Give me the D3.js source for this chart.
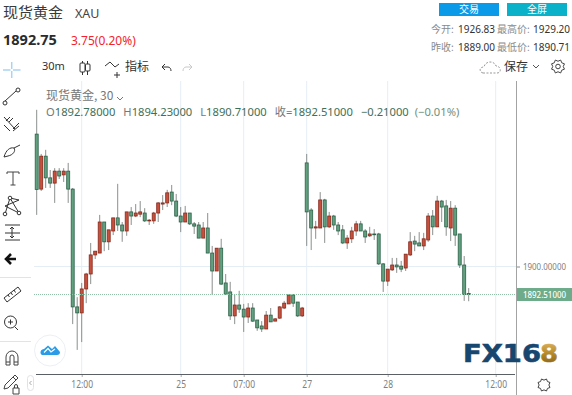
<!DOCTYPE html>
<html>
<head>
<meta charset="utf-8">
<script src="https://cdn.jsdelivr.net/npm/d3@7"></script>
<style>
  html, body { margin: 0; padding: 0; background: #fff; }
  svg { display: block; }
  text { font-family: "Noto Sans CJK SC", "Noto Sans", sans-serif; }
  .axis text { font-family: "Noto Sans", sans-serif; font-size: 10px; fill: #808080; }
  .num { font-family: "Noto Sans", "Noto Sans CJK SC", sans-serif; }
</style>
</head>
<body>
<div id="chart"></div>
<script>
// 30m candles
const opens = [1935.4,1920.7,1929.5,1923.7,1922.3,1925.5,1924.5,1925.5,1920.7,1889.2,1887.6,1894.0,1898.0,1903.1,1903.6,1911.9,1906.6,1909.5,1913.0,1911.1,1909.5,1914.6,1913.5,1914.0,1914.3,1912.2,1912.2,1914.3,1916.7,1917.0,1919.9,1917.5,1913.5,1911.9,1914.3,1911.4,1911.1,1907.6,1910.3,1903.6,1898.8,1904.9,1895.6,1893.2,1886.8,1889.7,1888.6,1886.5,1888.9,1885.7,1884.1,1883.3,1887.0,1885.4,1886.2,1888.9,1890.0,1892.4,1890.5,1886.8,1927.7,1915.1,1910.3,1910.3,1917.8,1910.6,1913.5,1911.1,1909.8,1906.3,1907.4,1909.5,1911.4,1909.5,1908.2,1908.7,1908.7,1900.7,1896.1,1899.1,1900.4,1900.1,1899.6,1903.1,1906.8,1906.3,1905.5,1907.1,1913.5,1910.6,1917.5,1916.2,1910.3,1915.6,1908.7,1900.4,1892.78];
const highs = [1941.9,1930.1,1931.2,1925.8,1926.3,1926.3,1926.3,1927.7,1921.0,1891.8,1895.6,1898.3,1906.3,1904.1,1913.8,1911.9,1909.8,1913.0,1922.1,1911.9,1914.6,1915.9,1916.7,1917.5,1915.6,1912.7,1914.6,1917.2,1919.1,1920.5,1921.8,1919.4,1915.9,1916.2,1914.3,1911.9,1911.9,1911.9,1914.3,1905.5,1904.9,1907.4,1898.0,1895.9,1892.6,1893.5,1890.0,1890.2,1890.2,1885.7,1885.4,1888.1,1888.9,1886.2,1889.4,1890.8,1892.6,1892.6,1890.5,1889.2,1930.1,1915.6,1912.2,1919.9,1918.1,1914.6,1913.8,1911.9,1911.1,1908.4,1910.6,1912.2,1912.2,1910.0,1910.6,1910.0,1909.0,1900.9,1899.3,1902.3,1902.3,1901.5,1903.3,1909.2,1908.2,1909.2,1909.0,1914.3,1915.1,1918.9,1917.8,1917.8,1917.5,1916.4,1908.7,1902.8,1894.23];
const lows = [1913.8,1920.2,1921.0,1921.0,1917.0,1923.4,1922.6,1917.0,1884.6,1877.7,1879.8,1890.2,1895.3,1902.0,1903.6,1904.1,1904.4,1908.4,1909.5,1906.6,1908.2,1911.1,1913.2,1913.2,1911.9,1911.1,1911.4,1911.9,1915.1,1915.9,1916.4,1913.2,1909.2,1911.9,1911.1,1908.7,1907.6,1907.6,1903.6,1892.4,1898.8,1895.1,1892.6,1885.7,1884.6,1887.6,1882.5,1884.9,1885.2,1882.8,1882.5,1883.3,1885.2,1885.4,1886.0,1888.6,1890.0,1889.2,1886.5,1886.5,1905.5,1904.4,1907.4,1910.3,1906.3,1910.3,1909.8,1908.4,1906.0,1904.7,1906.3,1908.2,1909.5,1906.3,1907.9,1907.1,1900.4,1893.2,1894.8,1898.8,1898.3,1898.5,1898.8,1902.8,1904.1,1905.5,1904.4,1906.6,1908.4,1910.6,1911.9,1908.2,1906.8,1905.5,1899.6,1890.8,1890.71];
const closes = [1920.6,1929.5,1923.7,1922.3,1925.5,1924.2,1925.5,1920.7,1889.2,1887.6,1894.0,1898.0,1903.1,1904.1,1911.9,1906.6,1909.8,1913.0,1911.1,1909.5,1914.6,1913.5,1914.3,1914.6,1912.2,1912.4,1914.3,1917.0,1917.0,1919.7,1917.5,1913.5,1911.9,1914.3,1911.4,1910.8,1907.6,1910.3,1903.6,1898.8,1904.9,1895.3,1892.6,1886.8,1889.7,1888.6,1886.5,1888.9,1885.4,1883.6,1883.3,1887.0,1885.2,1886.0,1889.2,1890.2,1892.4,1890.2,1886.8,1888.9,1914.6,1910.3,1910.6,1917.8,1910.6,1913.5,1911.1,1909.5,1906.3,1907.6,1909.5,1911.4,1909.5,1907.9,1908.7,1908.5,1900.7,1896.1,1899.3,1900.4,1899.9,1899.3,1903.3,1906.6,1906.0,1905.5,1907.4,1913.5,1910.6,1917.5,1915.9,1910.6,1915.6,1908.4,1900.4,1892.5,1892.51];

// axis labels, bar index -> label
const timeTickIndex = [10, 32, 46, 60, 78, 102];
const timeTickLabels = ["12:00", "25", "07:00", "27", "28", "12:00"];
const priceTicks = [1900];
const lastPrice = 1892.51;

const legendValues = [
  ["O", "1892.78000"], ["H", "1894.23000"], ["L", "1890.71000"], ["收=", "1892.51000"]
];

const upColor = "#c9503d", upEdge = "#84291b";
const downColor = "#62a180", downEdge = "#2c5f47";

const W = 572, H = 395;
const plot = { left: 36, right: 516, top: 81, bottom: 374 };

const svg = d3.select("#chart").append("svg").attr("width", W).attr("height", H);

const x = d3.scaleLinear().domain([0, 106]).range([36.7, 513.7]);
const y = d3.scaleLinear().domain([1871.26, 1949.6]).range([plot.bottom, plot.top]);

// squeeze axis text, the original font is narrower than what we have here
function condense(sel, factor) {
  sel.each(function() {
    d3.select(this).attr("textLength", this.getComputedTextLength() * factor)
      .attr("lengthAdjust", "spacingAndGlyphs");
  });
}

// grid
const grid = svg.append("g").attr("stroke", "#e5edf5").attr("fill", "none");
timeTickIndex.forEach(i => {
  grid.append("line").attr("x1", x(i)).attr("x2", x(i)).attr("y1", plot.top).attr("y2", plot.bottom);
});
priceTicks.forEach(p => {
  grid.append("line").attr("x1", plot.left - 2).attr("x2", plot.right).attr("y1", y(p)).attr("y2", y(p));
});

// candles
const candles = opens.map((o, i) => ({ i, o, h: highs[i], l: lows[i], c: closes[i] }));
const bodyWidth = 3;

const gCandles = svg.append("g");
gCandles.selectAll(".wick").data(candles).enter().append("line")
  .attr("class", "wick")
  .attr("x1", d => x(d.i)).attr("x2", d => x(d.i))
  .attr("y1", d => y(d.h)).attr("y2", d => y(d.l))
  .attr("stroke", "#8b8f8d").attr("stroke-width", 1);

gCandles.selectAll(".body").data(candles).enter().append("rect")
  .attr("class", "body")
  .attr("x", d => x(d.i) - bodyWidth / 2)
  .attr("width", bodyWidth)
  .attr("y", d => y(Math.max(d.o, d.c)))
  .attr("height", d => Math.max(0.8, Math.abs(y(d.o) - y(d.c))))
  .attr("fill", d => d.c >= d.o ? upColor : downColor)
  .attr("stroke", d => d.c >= d.o ? upEdge : downEdge)
  .attr("stroke-width", 0.8);

// last price line
svg.append("line")
  .attr("x1", plot.left - 2).attr("x2", plot.right)
  .attr("y1", y(lastPrice)).attr("y2", y(lastPrice))
  .attr("stroke", "#8fc0a6").attr("stroke-width", 1).attr("stroke-dasharray", "1,1");

// axes
const bottomAxis = d3.axisBottom(x).tickValues(timeTickIndex)
  .tickFormat((d, i) => timeTickLabels[i]).tickSize(3).tickPadding(4).tickSizeOuter(0);
const gx = svg.append("g").attr("class", "axis").attr("transform", `translate(0,${plot.bottom})`).call(bottomAxis);
gx.select(".domain").remove();
gx.selectAll("line").attr("stroke", "#aaa");
gx.selectAll("text").call(condense, 0.85);
svg.append("line").attr("x1", plot.left).attr("x2", plot.right - 1)
  .attr("y1", plot.bottom + 0.5).attr("y2", plot.bottom + 0.5).attr("stroke", "#5b5f66");

const rightAxis = d3.axisRight(y).tickValues(priceTicks).tickFormat(d3.format(".5f"))
  .tickSize(4).tickPadding(3).tickSizeOuter(0);
const gy = svg.append("g").attr("class", "axis").attr("transform", `translate(${plot.right},0)`).call(rightAxis);
gy.select(".domain").remove();
gy.selectAll("line").attr("stroke", "#888");
gy.selectAll("text").style("font-size", "9px").attr("textLength", 43).attr("lengthAdjust", "spacingAndGlyphs");
svg.append("line").attr("x1", plot.right + 0.5).attr("x2", plot.right + 0.5)
  .attr("y1", plot.top).attr("y2", H).attr("stroke", "#a3a3a3").attr("stroke-width", 1);

// last price tag
svg.append("rect").attr("x", plot.right + 1).attr("y", y(lastPrice) - 6.5)
  .attr("width", W - plot.right - 1).attr("height", 13).attr("fill", "#6dab8a");
svg.append("text").attr("class", "num").attr("x", plot.right + 7).attr("y", y(lastPrice) + 3.5)
  .attr("font-size", 9).attr("font-weight", 500).attr("fill", "#fff")
  .attr("textLength", 43).attr("lengthAdjust", "spacingAndGlyphs").text(d3.format(".5f")(lastPrice));

// header
function label(px, py, str, size, color, opts = {}) {
  const t = svg.append("text").attr("x", px).attr("y", py).attr("font-size", size).attr("fill", color).text(str);
  if (opts.anchor) t.attr("text-anchor", opts.anchor);
  if (opts.weight) t.attr("font-weight", opts.weight);
  if (opts.num) t.attr("class", "num");
  return t;
}
label(3, 18, "现货黄金", 15, "#3a3a3a");
label(75, 18, "XAU", 12.5, "#444", { num: true });
label(3, 45, "1892.75", 14.5, "#2b2b2b", { weight: 700, num: true });
label(71, 45, "3.75(0.20%)", 12, "#f5222d", { num: true });

svg.append("rect").attr("x", 439).attr("y", 3).attr("width", 60).attr("height", 13).attr("fill", "#0a9ae8");
svg.append("rect").attr("x", 507).attr("y", 3).attr("width", 60).attr("height", 13).attr("fill", "#0bb1c9");
label(469, 13, "交易", 10, "#fff", { anchor: "middle" });
label(537, 13, "全屏", 10, "#fff", { anchor: "middle" });

label(431, 33, "今开:", 10, "#8a8a8a");
label(458, 33, "1926.83", 10, "#333", { num: true });
label(497, 33, "最高价:", 10, "#8a8a8a");
label(533, 33, "1929.20", 10, "#333", { num: true });
label(431, 51, "昨收:", 10, "#8a8a8a");
label(458, 51, "1889.00", 10, "#333", { num: true });
label(497, 51, "最低价:", 10, "#8a8a8a");
label(533, 51, "1890.71", 10, "#333", { num: true });

// top toolbar
label(42, 70, "30m", 11, "#333", { num: true });
label(125, 70.5, "指标", 12, "#333");
label(504, 71, "保存", 12, "#333");

// chart legend
label(46, 100, "现货黄金, 30", 12, "#777");
const legendRow = svg.append("text").attr("class", "num").attr("x", 46).attr("y", 116).attr("font-size", 11.2);
legendValues.forEach(([k, v], i) => {
  legendRow.append("tspan").attr("fill", "#777").attr("dx", i ? 8 : 0).text(k);
  legendRow.append("tspan").attr("fill", "#3e6f57").text(v);
});
legendRow.append("tspan").attr("fill", "#3e6f57").attr("dx", 8).text("−0.21000");
legendRow.append("tspan").attr("fill", "#6f8f7e").attr("dx", 6).text("(−0.01%)");

// icons
function icon(d, color = "#444", sw = 1) {
  return svg.append("path").attr("d", d).attr("fill", "none").attr("stroke", color).attr("stroke-width", sw);
}
icon("M117 97L120 100L123 97", "#777"); // legend chevron
// crosshair
icon("M3 70h7.500M13 70h7.500M11.700 62v7M11.700 71v7", "#a9d3f3", 1.5);
// trend line
icon("M5 101L16 91", "#333");
svg.append("circle").attr("cx", 5).attr("cy", 103).attr("r", 2).attr("fill", "#fff").attr("stroke", "#333");
svg.append("circle").attr("cx", 18).attr("cy", 90).attr("r", 2).attr("fill", "#fff").attr("stroke", "#333");
// pitchfork
icon("M4 117L15 129M4 125L10 131M10 117L6 121M13 118L9 122M19 123L13 129M13 131L19 126", "#333");
// brush
icon("M4 157C6 150 10 147 14 148C16 151 13 155 8 156ZM14 148L20 145", "#333");
// text tool
icon("M7 174V172H19V174M13 172V185M10.500 185H15.500", "#444");
// pattern
icon("M5 214L10 198L19 213L5 206L19 200L10 198", "#333");
[[5, 214], [10, 198], [19, 213]].forEach(p => {
  svg.append("circle").attr("cx", p[0]).attr("cy", p[1]).attr("r", 1.8).attr("fill", "#fff").attr("stroke", "#333");
});
// fib
icon("M5 225H20M5 233H20M5 240H20M12 227V238M10 229L12 227L14 229M10 236L12 238L14 236", "#333");
// back arrow
icon("M16 259H7M11 254L6 259L11 264", "#111", 2.6);
// separators
svg.append("line").attr("x1", 0).attr("x2", 31).attr("y1", 277.5).attr("y2", 277.5).attr("stroke", "#e0e3e8");
svg.append("line").attr("x1", 0).attr("x2", 31).attr("y1", 341.5).attr("y2", 341.5).attr("stroke", "#e0e3e8");
// ruler
icon("M4 298L18 287L21 291L7 302ZM8 295L9.500 297M11 292.500L12.500 295M14 290L15.500 292.500", "#333");
// zoom
svg.append("circle").attr("cx", 10.5).attr("cy", 322).attr("r", 6).attr("fill", "none").attr("stroke", "#333");
icon("M8 322H13M10.500 319.500V324.500M15 327L18 330", "#333");
// magnet
icon("M6 365V357A6 6 0 0 1 18 357V365H14V357A2 2 0 0 0 10 357V365ZM6 362H10M14 362H18", "#444");
// pencil + lock
icon("M4 389L5 385L15 375L18 378L8 388ZM13 377L16 380", "#444");
icon("M13 388H19V394H13ZM14.500 388V386A1.500 1.500 0 0 1 17.500 386V388", "#444");
// collapse handle
svg.append("rect").attr("x", 27.5).attr("y", 375.5).attr("width", 6).attr("height", 15).attr("rx", 3)
  .attr("fill", "#fff").attr("stroke", "#dfe2e6");
icon("M31.500 381L29.500 383L31.500 385", "#aaa");

// toolbar icons on top
icon("M82.500 61V75M87.500 61V75", "#333");
svg.append("rect").attr("x", 80).attr("y", 63).attr("width", 5).attr("height", 9).attr("rx", 1).attr("fill", "#fff").attr("stroke", "#333");
svg.append("rect").attr("x", 85.5).attr("y", 64).attr("width", 4.5).attr("height", 7).attr("rx", 1).attr("fill", "#fff").attr("stroke", "#333");
icon("M105 66L110 62L115 67L119 64M117 72V78M114 75H120", "#333");
icon("M162 67L165 64M162 67L165 70M162 67H168C170 67 171 69 171 71", "#333");
icon("M192 67L189 64M192 67L189 70M192 67H186C184 67 183 69 183 71", "#c9c9c9");
icon("M483 73C479 72 479 67 484 67C485 61 494 60 496 66C501 66 502 73 497 73Z", "#999").attr("stroke-dasharray", "2,1.5");
icon("M533 65L536 68L539 65", "#555");
// gear
function gear(cx, cy, r) {
  const pts = d3.range(0, 16).map(k => {
    const a = (k / 16) * 2 * Math.PI;
    const rr = k % 2 ? r : r * 0.75;
    return [cx + rr * Math.cos(a), cy + rr * Math.sin(a)];
  });
  icon(d3.line().curve(d3.curveLinearClosed)(pts), "#444");
}
gear(558, 66.5, 7);
svg.append("circle").attr("cx", 558).attr("cy", 66.5).attr("r", 2.3).attr("fill", "none").attr("stroke", "#444");
gear(544, 385, 6.5);

// cloud button
svg.append("circle").attr("cx", 50).attr("cy", 350.5).attr("r", 15.5).attr("fill", "#fff").attr("stroke", "#eceff3");
svg.append("path").attr("d", "M42 355C39 353 41 349 44 349L48 345.500L52 349L55 346L60 352C60 354 59 355 57 355Z").attr("fill", "#2a9be6");
svg.append("path").attr("d", "M44 352.500L48 348.500L51 352L55 349").attr("fill", "none").attr("stroke", "#fff").attr("stroke-width", 1.2);

// logo
const grad = svg.append("defs").append("linearGradient").attr("id", "gold").attr("x1", 0).attr("x2", 0).attr("y1", 0).attr("y2", 1);
grad.append("stop").attr("offset", "0%").attr("stop-color", "#e2b964");
grad.append("stop").attr("offset", "55%").attr("stop-color", "#b08222");
grad.append("stop").attr("offset", "100%").attr("stop-color", "#7a5a14");
svg.append("text").attr("x", 463).attr("y", 362).attr("font-size", 24).attr("font-weight", 700)
  .attr("textLength", 78).attr("lengthAdjust", "spacingAndGlyphs")
  .attr("stroke", "#17466f").attr("stroke-width", 0.6)
  .style("font-family", "'DejaVu Sans', sans-serif").attr("fill", "#17466f").text("FX16");
svg.append("text").attr("x", 540).attr("y", 362).attr("font-size", 24).attr("font-weight", 700)
  .attr("textLength", 18).attr("lengthAdjust", "spacingAndGlyphs")
  .attr("stroke", "url(#gold)").attr("stroke-width", 0.6)
  .style("font-family", "'DejaVu Sans', sans-serif").attr("fill", "url(#gold)").text("8");
</script>
</body>
</html>
